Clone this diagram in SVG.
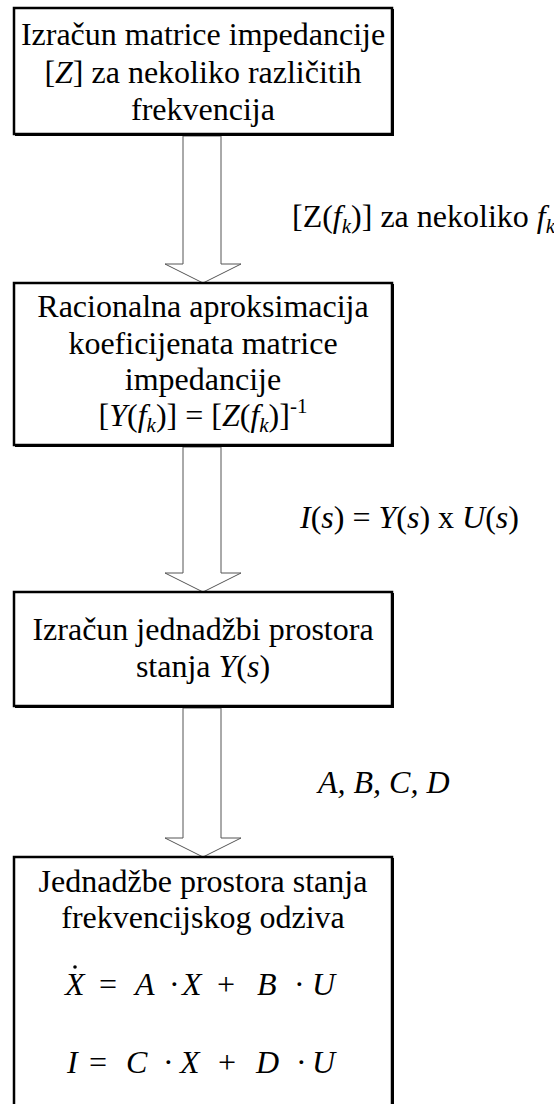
<svg xmlns="http://www.w3.org/2000/svg" width="554" height="1104" viewBox="0 0 554 1104" font-family="Liberation Serif" font-size="32">
<defs>
<rect id="shadowless" width="0" height="0"/>
</defs>
<rect width="554" height="1104" fill="#fff"/>
<g id="connectors">
<g fill="#fff" stroke="#555" stroke-width="1">
<polygon points="183,136 221,136 221,264 241,264 203,283 165,264 183,264"/>
<polygon points="183,447 221,447 221,573 241,573 203,592 165,573 183,573"/>
<polygon points="183,708 221,708 221,838 241,838 203,857 165,838 183,838"/>
</g>
<text x="292" y="227" fill="#000">[Z(<tspan font-style="italic">f</tspan><tspan font-style="italic" font-size="21" dy="6">k</tspan><tspan dy="-6">)] za nekoliko </tspan><tspan font-style="italic">f</tspan><tspan font-style="italic" font-size="21" dy="6">k</tspan></text>
<text x="300" y="528" fill="#000"><tspan font-style="italic">I</tspan>(<tspan font-style="italic">s</tspan>) = <tspan font-style="italic">Y</tspan>(<tspan font-style="italic">s</tspan>) x <tspan font-style="italic">U</tspan>(<tspan font-style="italic">s</tspan>)</text>
<text x="318" y="793" font-style="italic" fill="#000">A, B, C, D</text>
</g>
<g id="node1" text-anchor="middle">
<rect x="14" y="8" width="378" height="126" fill="#fff" stroke="#000" stroke-width="2.5"/>
<path d="M393,9 V135 H15" fill="none" stroke="#000" stroke-width="2"/>
<text x="203" y="45">Izračun matrice impedancije</text>
<text x="203" y="82.5">[<tspan font-style="italic">Z</tspan>] za nekoliko različitih</text>
<text x="203" y="120">frekvencija</text>
</g>
<g id="node2" text-anchor="middle">
<rect x="14" y="283" width="378" height="162" fill="#fff" stroke="#000" stroke-width="2.5"/>
<path d="M393,284 V446 H15" fill="none" stroke="#000" stroke-width="2"/>
<text x="203" y="317">Racionalna aproksimacija</text>
<text x="203" y="354">koeficijenata matrice</text>
<text x="203" y="390">impedancije</text>
<text x="203" y="426">[<tspan font-style="italic">Y</tspan>(<tspan font-style="italic">f</tspan><tspan font-style="italic" font-size="21" dy="6">k</tspan><tspan dy="-6">)] = [</tspan><tspan font-style="italic">Z</tspan>(<tspan font-style="italic">f</tspan><tspan font-style="italic" font-size="21" dy="6">k</tspan><tspan dy="-6">)]</tspan><tspan font-size="21" dy="-13">-1</tspan></text>
</g>
<g id="node3" text-anchor="middle">
<rect x="14" y="592" width="378" height="114" fill="#fff" stroke="#000" stroke-width="2.5"/>
<path d="M393,593 V707 H15" fill="none" stroke="#000" stroke-width="2"/>
<text x="203" y="640">Izračun jednadžbi prostora</text>
<text x="203" y="677">stanja <tspan font-style="italic">Y</tspan>(<tspan font-style="italic">s</tspan>)</text>
</g>
<g id="node4" text-anchor="middle">
<rect x="14" y="857" width="378" height="260" fill="#fff" stroke="#000" stroke-width="2.5"/>
<path d="M393,858 V1110" fill="none" stroke="#000" stroke-width="2"/>
<text x="203" y="892">Jednadžbe prostora stanja</text>
<text x="203" y="928">frekvencijskog odziva</text>
<circle cx="75" cy="967" r="1.8" fill="#000"/>
<g id="equations" text-anchor="start">
<text font-style="italic" x="65" y="995">X</text>
<text x="99" y="995">=</text>
<text font-style="italic" x="135" y="995">A</text>
<text x="169" y="995">·</text>
<text font-style="italic" x="182" y="995">X</text>
<text x="217" y="995">+</text>
<text font-style="italic" x="257" y="995">B</text>
<text x="294" y="995">·</text>
<text font-style="italic" x="312" y="995">U</text>
<text font-style="italic" x="67" y="1073">I</text>
<text x="89" y="1073">=</text>
<text font-style="italic" x="126" y="1073">C</text>
<text x="163" y="1073">·</text>
<text font-style="italic" x="180" y="1073">X</text>
<text x="218" y="1073">+</text>
<text font-style="italic" x="256" y="1073">D</text>
<text x="296" y="1073">·</text>
<text font-style="italic" x="312" y="1073">U</text>
</g>
</g>
</svg>
